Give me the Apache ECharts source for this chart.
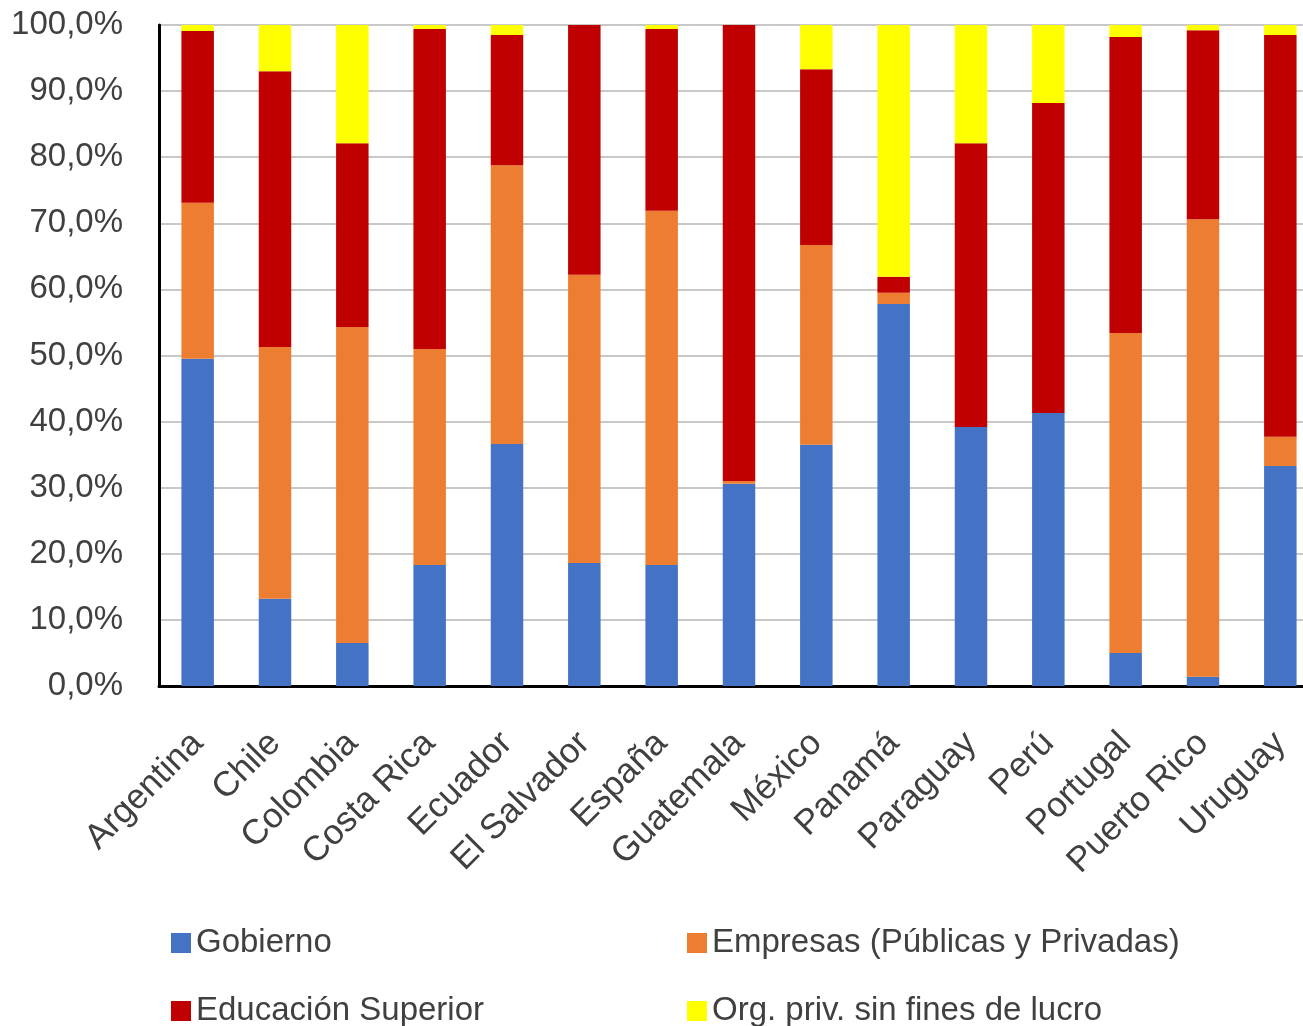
<!DOCTYPE html>
<html>
<head>
<meta charset="utf-8">
<script src="https://cdn.jsdelivr.net/npm/echarts@6/dist/echarts.min.js"></script>
<style>
html,body{margin:0;padding:0;background:#fff;}
#chart{width:1303px;height:1026px;}
</style>
</head>
<body>
<div id="chart"></div>
<script>
const categories = ['Argentina','Chile','Colombia','Costa Rica','Ecuador','El Salvador','España','Guatemala','México','Panamá','Paraguay','Perú','Portugal','Puerto Rico','Uruguay'];
const gobierno  = [49.5, 13.2,  6.5, 18.3, 36.6, 18.6, 18.3, 30.6, 36.5, 57.8, 39.2, 41.3,  5.0,  1.4, 33.3];
const empresas  = [23.6, 38.1, 47.8, 32.7, 42.2, 43.6, 53.6,  0.4, 30.2,  1.7,  0.0,  0.0, 48.4, 69.2,  4.4];
const educacion = [26.0, 41.7, 27.8, 48.4, 19.7, 37.8, 27.5, 69.0, 26.6,  2.4, 42.9, 46.9, 44.8, 28.6, 60.8];
const orgPriv   = [ 0.9,  7.0, 17.9,  0.6,  1.5,  0.0,  0.6,  0.0,  6.7, 38.1, 17.9, 11.8,  1.8,  0.8,  1.5];
const yTicks = [0,10,20,30,40,50,60,70,80,90,100];

const names = ['Gobierno','Empresas (Públicas y Privadas)','Educación Superior','Org. priv. sin fines de lucro'];
const colors = ['#4472C4','#ED7D31','#C00000','#FFFF00'];
const dataSets = [gobierno, empresas, educacion, orgPriv];

const FONT = 'Liberation Sans';
const chart = echarts.init(document.getElementById('chart'));

const legendPos = [[166,920],[682,920],[166,988],[682,988]];
const legends = names.map((n,i)=>({
  data:[n], left:legendPos[i][0], top:legendPos[i][1], orient:'horizontal',
  itemWidth:20, itemHeight:20, icon:'rect',
  textStyle:{fontFamily:FONT, fontSize:33, color:'#404040', lineHeight:36}
}));

chart.setOption({
  animation:false,
  backgroundColor:'#fff',
  color:colors,
  legend:legends,
  grid:{left:159, width:1160, top:25, bottom:340, containLabel:false, outerBoundsMode:'none'},
  xAxis:{
    type:'category', data:categories,
    axisLine:{lineStyle:{color:'#000', width:3}},
    axisTick:{show:false},
    axisLabel:{rotate:45, interval:0, margin:52, fontFamily:FONT, fontSize:35, color:'#404040'}
  },
  yAxis:{
    type:'value', min:0, max:100, interval:10,
    axisLine:{show:true, lineStyle:{color:'#000', width:3}},
    axisTick:{show:false},
    splitLine:{lineStyle:{color:'#C8C8C8', width:2}},
    axisLabel:{
      margin:36, fontFamily:FONT, fontSize:33, color:'#404040',
      formatter:v=> yTicks.includes(v) ? v.toFixed(1).replace('.',',')+'%' : ''
    }
  },
  series:dataSets.map((d,i)=>({
    name:names[i], type:'bar', stack:'total', data:d,
    barWidth:'42%',
    itemStyle:{color:colors[i]}
  }))
});
</script>
</body>
</html>
